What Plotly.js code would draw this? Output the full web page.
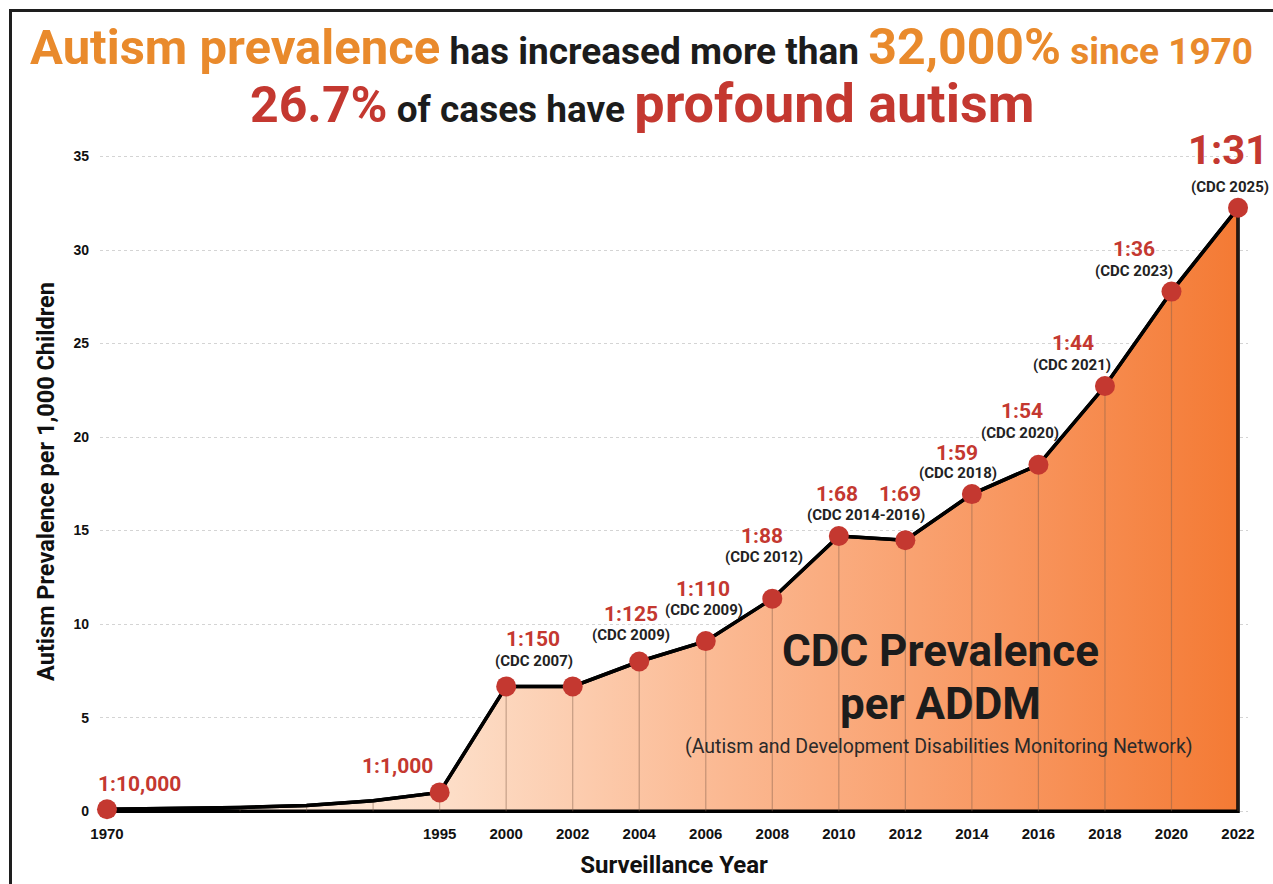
<!DOCTYPE html>
<html>
<head>
<meta charset="utf-8">
<script src="https://cdn.plot.ly/plotly-3.0.1.min.js"></script>
<style>
  html, body { margin: 0; padding: 0; background: #fff; }
  #chart { width: 1273px; height: 884px; }
  #frame { position: absolute; left: 9px; top: 9px; width: 1300px; height: 900px;
           border-left: 3px solid #1e1e1e; border-top: 3px solid #1e1e1e; pointer-events: none; }
</style>
</head>
<body>
<div id="chart"></div>
<div id="frame"></div>
<script>
// ---------------- DATA ----------------
// x-axis slots (5-year steps until 1995, then surveillance years)
const categories = ['1970','1975','1980','1985','1990','1995','2000','2002','2004','2006','2008','2010','2012','2014','2016','2018','2020','2022'];
const tickYears  = ['1970','1995','2000','2002','2004','2006','2008','2010','2012','2014','2016','2018','2020','2022'];
// prevalence per 1,000 children
const years      = ['1970','1980','1985','1990','1995','2000','2002','2004','2006','2008','2010','2012','2014','2016','2018','2020','2022'];
const prevalence = [0.1, 0.2, 0.3, 0.55, 1.0, 6.67, 6.67, 8.0, 9.09, 11.36, 14.71, 14.49, 16.95, 18.52, 22.73, 27.78, 32.26];
// years shown with a marker
const markedYears = ['1970','1995','2000','2002','2004','2006','2008','2010','2012','2014','2016','2018','2020','2022'];
// labels
const ratioYears   = ['1970','1995','2000','2004','2006','2008','2010','2012','2014','2016','2018','2020','2022'];
const ratioLabels  = ['1:10,000','1:1,000','1:150','1:125','1:110','1:88','1:68','1:69','1:59','1:54','1:44','1:36','1:31'];
const sourceYears  = ['2000','2004','2006','2008','2010','2014','2016','2018','2020','2022'];
const sourceLabels = ['(CDC 2007)','(CDC 2009)','(CDC 2009)','(CDC 2012)','(CDC 2014-2016)','(CDC 2018)','(CDC 2020)','(CDC 2021)','(CDC 2023)','(CDC 2025)'];

// ---------------- LAYOUT HELPERS (pixel offsets of labels) ----------------
const ratioShift  = [[33,25],[-42,26],[27,47],[-8,48],[-3,52],[-10,63],[-2,42],[-5,46],[-15,41],[-16,54],[-32,43],[-37,43],[-10,57]];
const sourceShift = [[28,25],[-8,27],[-2,31],[-8,42],[27,21],[-14,21],[-18,32],[-33,21],[-37,21],[-8,21]];

const RED = 'rgb(196,56,48)';
const ORANGE = 'rgb(233,138,44)';
const DARK = '#1c1c1c';

const valueOf = y => prevalence[years.indexOf(y)];
const slotOf = y => categories.indexOf(y);

// closed polygon for the area (data line + back along the baseline)
const polyX = years.concat([years[years.length-1], years[0]]);
const polyY = prevalence.concat([0, 0]);

const area = {
  x: polyX, y: polyY, type: 'scatter', mode: 'lines', fill: 'toself',
  line: {color: '#000', width: 3.5},
  fillgradient: {type: 'horizontal', colorscale: [
    [0, 'rgb(255,246,240)'], [0.3, 'rgb(253,222,200)'], [0.55, 'rgb(251,184,145)'],
    [0.8, 'rgb(248,150,95)'], [1, 'rgb(244,122,52)']]},
  hoverinfo: 'skip', showlegend: false
};
const drops = {
  x: years, y: prevalence, type: 'scatter', mode: 'markers',
  marker: {size: 1, opacity: 0},
  error_y: {type: 'data', symmetric: false, array: years.map(() => 0), arrayminus: prevalence,
            width: 0, thickness: 1.2, color: 'rgba(130,95,75,0.45)'},
  hoverinfo: 'skip', showlegend: false
};
const line = {
  x: years, y: prevalence, type: 'scatter', mode: 'lines',
  line: {color: '#000', width: 3.5}, hoverinfo: 'skip', showlegend: false
};
const dots = {
  x: markedYears, y: markedYears.map(valueOf), type: 'scatter', mode: 'markers',
  marker: {size: 20, color: RED}, cliponaxis: false, showlegend: false
};

const annotations = [];
ratioYears.forEach((yr, i) => {
  annotations.push({
    x: slotOf(yr), y: valueOf(yr), xref: 'x', yref: 'y', text: ratioLabels[i], showarrow: false,
    xanchor: 'center', yanchor: 'middle', xshift: ratioShift[i][0], yshift: ratioShift[i][1],
    font: {family: 'Roboto', size: yr === '2022' ? 40 : 21, color: RED, weight: 'bold'}
  });
});
sourceYears.forEach((yr, i) => {
  annotations.push({
    x: slotOf(yr), y: valueOf(yr), xref: 'x', yref: 'y', text: sourceLabels[i], showarrow: false,
    xanchor: 'center', yanchor: 'middle', xshift: sourceShift[i][0], yshift: sourceShift[i][1],
    font: {family: 'Roboto', size: 15, color: '#222', weight: 'bold'}
  });
});
// title lines
annotations.push({
  xref: 'paper', yref: 'paper', x: 0.472, y: 1.155, xanchor: 'center', yanchor: 'middle', showarrow: false,
  text: '<span style="color:' + ORANGE + ';font-size:49px">Autism prevalence</span> ' +
        '<span style="color:' + DARK + ';font-size:37px">has increased more than</span> ' +
        '<span style="color:' + ORANGE + ';font-size:50px">32,000%</span> ' +
        '<span style="color:' + ORANGE + ';font-size:37px">since 1970</span>',
  font: {family: 'Roboto', size: 37, color: DARK, weight: 'bold'}
});
annotations.push({
  xref: 'paper', yref: 'paper', x: 0.472, y: 1.07, xanchor: 'center', yanchor: 'middle', showarrow: false,
  text: '<span style="color:' + RED + ';font-size:50px">26.7%</span> ' +
        '<span style="color:' + DARK + ';font-size:37px">of cases have</span> ' +
        '<span style="color:' + RED + ';font-size:54px">profound autism</span>',
  font: {family: 'Roboto', size: 37, color: DARK, weight: 'bold'}
});
// center text
annotations.push({
  xref: 'paper', yref: 'paper', x: 0.732, y: 0.245, xanchor: 'center', yanchor: 'middle', showarrow: false,
  text: 'CDC Prevalence', font: {family: 'Roboto', size: 44, color: DARK, weight: 'bold'}
});
annotations.push({
  xref: 'paper', yref: 'paper', x: 0.732, y: 0.165, xanchor: 'center', yanchor: 'middle', showarrow: false,
  text: 'per ADDM', font: {family: 'Roboto', size: 44, color: DARK, weight: 'bold'}
});
annotations.push({
  xref: 'paper', yref: 'paper', x: 0.731, y: 0.101, xanchor: 'center', yanchor: 'middle', showarrow: false,
  text: '(Autism and Development Disabilities Monitoring Network)',
  font: {family: 'Roboto', size: 19.5, color: '#2a2a2a'}
});

const layout = {
  width: 1273, height: 884,
  margin: {l: 100, r: 25, t: 150, b: 71},
  paper_bgcolor: '#fff', plot_bgcolor: 'rgba(0,0,0,0)',
  showlegend: false,
  xaxis: {
    type: 'category', categoryorder: 'array', categoryarray: categories,
    range: [-0.105, 17.15], tickmode: 'array', tickvals: tickYears, ticktext: tickYears,
    showgrid: false, zeroline: false, showline: false, ticks: '', ticklabelstandoff: 10,
    tickfont: {family: 'Liberation Sans, Arial', size: 15, color: '#111', weight: 'bold'},
    title: {text: 'Surveillance Year', standoff: 15,
            font: {family: 'Roboto', size: 24, color: '#111', weight: 'bold'}},
    fixedrange: true
  },
  yaxis: {
    range: [-0.1, 35.35], tickvals: [0,5,10,15,20,25,30,35],
    showgrid: true, gridcolor: '#d4d4d4', griddash: 'dot', gridwidth: 1,
    zeroline: false, showline: false, ticks: '', ticklabelstandoff: 10,
    tickfont: {family: 'Liberation Sans, Arial', size: 14, color: '#111', weight: 'bold'},
    title: {text: 'Autism Prevalence per 1,000 Children', standoff: 12,
            font: {family: 'Roboto', size: 23.5, color: '#111', weight: 'bold'}},
    fixedrange: true
  },
  annotations: annotations
};

Plotly.newPlot('chart', [area, drops, line, dots], layout, {displayModeBar: false, staticPlot: true});
</script>
</body>
</html>
